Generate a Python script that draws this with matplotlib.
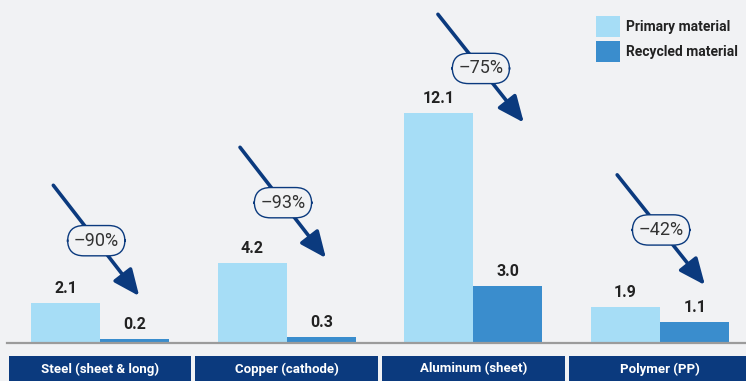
import matplotlib
matplotlib.use("Agg")
import matplotlib.pyplot as plt
from matplotlib import font_manager as fm
from matplotlib.patches import Rectangle

# ---- data ----
categories = ["Steel (sheet & long)", "Copper (cathode)", "Aluminum (sheet)", "Polymer (PP)"]
primary = [2.1, 4.2, 12.1, 1.9]
recycled = [0.2, 0.3, 3.0, 1.1]
reductions = ["\u201390%", "\u201393%", "\u201375%", "\u201342%"]
series_names = ["Primary material", "Recycled material"]

# annotation arrow geometry (offset from group centre, value units)
arrow_x0 = [-0.25, -0.25, -0.19, -0.23]
arrow_y0 = [8.3, 10.3, 17.3, 8.85]
arrow_x1 = [0.21, 0.21, 0.27, 0.24]
arrow_y1 = [2.47, 4.47, 11.6, 3.05]

def pick(names):
    for n in names:
        try:
            fm.findfont(fm.FontProperties(family=n), fallback_to_default=False)
            return n
        except Exception:
            pass
    return "DejaVu Sans"

FONT = pick(["Liberation Sans Narrow", "Roboto", "Lato"])
plt.rcParams["font.family"] = [FONT, "DejaVu Sans"]

BG = "#f1f2f4"
C_PRI = "#a6ddf6"
C_REC = "#3a8dcd"
NAVY = "#0b3a7e"
TXT = "#222222"

fig = plt.figure(figsize=(7.46, 3.81), dpi=100, facecolor=BG)
ax = fig.add_axes([0, 38 / 381, 1, 343 / 381])
ax.set_facecolor(BG)

n = len(categories)
x = list(range(n))
w = 0.37
ax.bar([i - w / 2 for i in x], primary, width=w, color=C_PRI, label=series_names[0], zorder=2)
ax.bar([i + w / 2 for i in x], recycled, width=w, color=C_REC, label=series_names[1], zorder=2)

ax.set_xlim(-0.5356, 3.46)
ax.set_ylim(0, 343 / 19.0)
for s in ax.spines.values():
    s.set_visible(False)
ax.set_xticks([])
ax.set_yticks([])

# baseline
ax.plot([-0.5, 3.46], [0, 0], color="#9b9b9b", lw=1.6, zorder=3, clip_on=False)

# value labels
for i in x:
    ax.annotate(f"{primary[i]:.1f}", (i - w / 2, primary[i]), xytext=(0, 5), textcoords="offset points",
                ha="center", va="bottom", fontsize=11.5, fontweight="bold", color=TXT)
    ax.annotate(f"{recycled[i]:.1f}", (i + w / 2, recycled[i]), xytext=(0, 5), textcoords="offset points",
                ha="center", va="bottom", fontsize=11.5, fontweight="bold", color=TXT)

# category boxes
for i in x:
    ax.add_patch(Rectangle((i - 0.49, -2.3), 0.98, 2.3 - 0.68, facecolor=NAVY, edgecolor="none",
                           clip_on=False, zorder=3))
    ax.text(i, -1.37, categories[i], ha="center", va="center", color="white",
            fontsize=9.5, fontweight="bold", zorder=4, clip_on=False)

# arrows with reduction labels
for i in x:
    xs, ys = i + arrow_x0[i], arrow_y0[i]
    xe, ye = i + arrow_x1[i], arrow_y1[i]
    ax.annotate("", xy=(xe, ye), xytext=(xs, ys),
                arrowprops=dict(arrowstyle="-|>,head_length=1.6,head_width=0.7", color=NAVY, lw=2.6,
                                shrinkA=0, shrinkB=0), zorder=4, annotation_clip=False)
    ax.text((xs + xe) / 2, (ys + ye) / 2, reductions[i], ha="center", va="center", fontsize=13,
            color="#333333", zorder=5,
            bbox=dict(boxstyle="round,pad=0.34,rounding_size=0.9", facecolor=BG, edgecolor=NAVY, lw=1.0))

leg = ax.legend(loc="upper left", bbox_to_anchor=(596 / 746, 1 - 16 / 343), bbox_transform=ax.transAxes,
                frameon=False, borderpad=0, borderaxespad=0, handlelength=1.75, handleheight=1.95,
                handletextpad=0.4, labelspacing=0.3, prop=dict(size=10, weight="bold"))
for t in leg.get_texts():
    t.set_color(TXT)

fig.savefig("out.png", dpi=100, facecolor=BG)
